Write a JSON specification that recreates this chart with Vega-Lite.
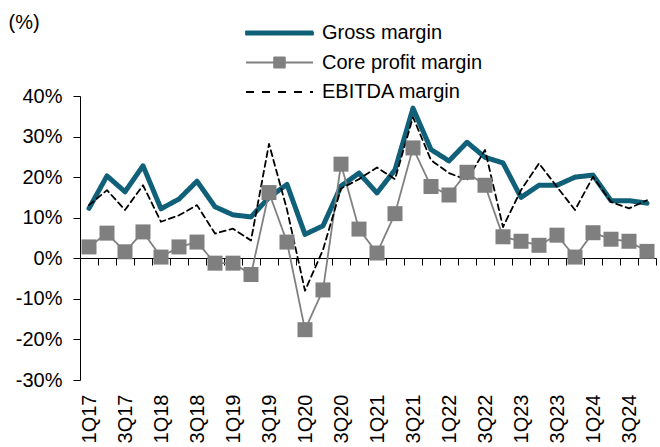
{
  "$schema": "https://vega.github.io/schema/vega-lite/v6.json",
  "width": 576,
  "height": 284,
  "autosize": {"type": "none"},
  "padding": {"left": 80, "top": 96, "right": 4, "bottom": 67},
  "background": "white",
  "config": {"view": {"stroke": null}, "font": "Liberation Sans"},
  "datasets": {
    "d": [
      {"q":"1Q17","s":"Gross margin","v":12.3},{"q":"2Q17","s":"Gross margin","v":20.3},{"q":"3Q17","s":"Gross margin","v":16.4},{"q":"4Q17","s":"Gross margin","v":22.8},
      {"q":"1Q18","s":"Gross margin","v":12.2},{"q":"2Q18","s":"Gross margin","v":14.6},{"q":"3Q18","s":"Gross margin","v":19.0},{"q":"4Q18","s":"Gross margin","v":12.7},
      {"q":"1Q19","s":"Gross margin","v":10.7},{"q":"2Q19","s":"Gross margin","v":10.2},{"q":"3Q19","s":"Gross margin","v":15.0},{"q":"4Q19","s":"Gross margin","v":18.2},
      {"q":"1Q20","s":"Gross margin","v":5.9},{"q":"2Q20","s":"Gross margin","v":8.0},{"q":"3Q20","s":"Gross margin","v":17.8},{"q":"4Q20","s":"Gross margin","v":21.0},
      {"q":"1Q21","s":"Gross margin","v":16.1},{"q":"2Q21","s":"Gross margin","v":21.8},{"q":"3Q21","s":"Gross margin","v":37.0},{"q":"4Q21","s":"Gross margin","v":26.8},
      {"q":"1Q22","s":"Gross margin","v":24.0},{"q":"2Q22","s":"Gross margin","v":28.6},{"q":"3Q22","s":"Gross margin","v":24.9},{"q":"4Q22","s":"Gross margin","v":23.5},
      {"q":"1Q23","s":"Gross margin","v":15.0},{"q":"2Q23","s":"Gross margin","v":18.0},{"q":"3Q23","s":"Gross margin","v":18.0},{"q":"4Q23","s":"Gross margin","v":20.0},
      {"q":"1Q24","s":"Gross margin","v":20.5},{"q":"2Q24","s":"Gross margin","v":14.2},{"q":"3Q24","s":"Gross margin","v":14.2},{"q":"4Q24","s":"Gross margin","v":13.6},

      {"q":"1Q17","s":"Core profit margin","v":2.8},{"q":"2Q17","s":"Core profit margin","v":6.2},{"q":"3Q17","s":"Core profit margin","v":1.6},{"q":"4Q17","s":"Core profit margin","v":6.5},
      {"q":"1Q18","s":"Core profit margin","v":0.3},{"q":"2Q18","s":"Core profit margin","v":2.8},{"q":"3Q18","s":"Core profit margin","v":4.0},{"q":"4Q18","s":"Core profit margin","v":-1.2},
      {"q":"1Q19","s":"Core profit margin","v":-1.2},{"q":"2Q19","s":"Core profit margin","v":-4.0},{"q":"3Q19","s":"Core profit margin","v":16.2},{"q":"4Q19","s":"Core profit margin","v":4.0},
      {"q":"1Q20","s":"Core profit margin","v":-17.6},{"q":"2Q20","s":"Core profit margin","v":-7.8},{"q":"3Q20","s":"Core profit margin","v":23.2},{"q":"4Q20","s":"Core profit margin","v":7.2},
      {"q":"1Q21","s":"Core profit margin","v":1.3},{"q":"2Q21","s":"Core profit margin","v":11.0},{"q":"3Q21","s":"Core profit margin","v":27.2},{"q":"4Q21","s":"Core profit margin","v":17.7},
      {"q":"1Q22","s":"Core profit margin","v":15.6},{"q":"2Q22","s":"Core profit margin","v":21.2},{"q":"3Q22","s":"Core profit margin","v":18.0},{"q":"4Q22","s":"Core profit margin","v":5.3},
      {"q":"1Q23","s":"Core profit margin","v":4.2},{"q":"2Q23","s":"Core profit margin","v":3.2},{"q":"3Q23","s":"Core profit margin","v":5.7},{"q":"4Q23","s":"Core profit margin","v":0.3},
      {"q":"1Q24","s":"Core profit margin","v":6.3},{"q":"2Q24","s":"Core profit margin","v":4.7},{"q":"3Q24","s":"Core profit margin","v":4.2},{"q":"4Q24","s":"Core profit margin","v":1.7},

      {"q":"1Q17","s":"EBITDA margin","v":13.1},{"q":"2Q17","s":"EBITDA margin","v":16.8},{"q":"3Q17","s":"EBITDA margin","v":11.9},{"q":"4Q17","s":"EBITDA margin","v":18.0},
      {"q":"1Q18","s":"EBITDA margin","v":9.0},{"q":"2Q18","s":"EBITDA margin","v":10.6},{"q":"3Q18","s":"EBITDA margin","v":13.1},{"q":"4Q18","s":"EBITDA margin","v":6.1},
      {"q":"1Q19","s":"EBITDA margin","v":7.3},{"q":"2Q19","s":"EBITDA margin","v":4.4},{"q":"3Q19","s":"EBITDA margin","v":28.2},{"q":"4Q19","s":"EBITDA margin","v":12.0},
      {"q":"1Q20","s":"EBITDA margin","v":-8.0},{"q":"2Q20","s":"EBITDA margin","v":2.1},{"q":"3Q20","s":"EBITDA margin","v":17.2},{"q":"4Q20","s":"EBITDA margin","v":19.5},
      {"q":"1Q21","s":"EBITDA margin","v":22.4},{"q":"2Q21","s":"EBITDA margin","v":19.5},{"q":"3Q21","s":"EBITDA margin","v":34.8},{"q":"4Q21","s":"EBITDA margin","v":24.2},
      {"q":"1Q22","s":"EBITDA margin","v":21.0},{"q":"2Q22","s":"EBITDA margin","v":19.3},{"q":"3Q22","s":"EBITDA margin","v":26.7},{"q":"4Q22","s":"EBITDA margin","v":7.7},
      {"q":"1Q23","s":"EBITDA margin","v":16.8},{"q":"2Q23","s":"EBITDA margin","v":23.4},{"q":"3Q23","s":"EBITDA margin","v":17.6},{"q":"4Q23","s":"EBITDA margin","v":11.9},
      {"q":"1Q24","s":"EBITDA margin","v":20.1},{"q":"2Q24","s":"EBITDA margin","v":13.9},{"q":"3Q24","s":"EBITDA margin","v":12.3},{"q":"4Q24","s":"EBITDA margin","v":14.3}
    ]
  },
  "data": {"name": "d"},
  "layer": [
    {
      "mark": {"type": "line", "strokeCap": "round", "strokeJoin": "round"},
      "encoding": {
        "x": {
          "field": "q", "type": "ordinal", "sort": null,
          "scale": {"type": "band", "paddingInner": 0, "paddingOuter": 0},
          "axis": {
            "title": null, "offset": -122, "tickBand": "extent", "tickSize": 7,
            "tickColor": "black", "domainColor": "black", "grid": false,
            "labelAngle": -90, "labelAlign": "right", "labelBaseline": "middle",
            "labelFontSize": 20, "labelColor": "black", "labelPadding": 129,
            "labelOverlap": false,
            "labelExpr": "(substring(datum.label,0,1) === '1' || substring(datum.label,0,1) === '3') ? datum.label : ''"
          }
        },
        "y": {
          "field": "v", "type": "quantitative",
          "scale": {"domain": [-30, 40], "nice": false, "zero": false},
          "axis": {
            "title": "(%)", "titleAngle": 0, "titleX": -72, "titleY": -74,
            "titleAlign": "left", "titleBaseline": "middle", "titleFontSize": 20,
            "titleFontWeight": "normal", "titleColor": "black",
            "values": [-30, -20, -10, 0, 10, 20, 30, 40],
            "labelExpr": "datum.value + '%'", "tickSize": 7, "labelPadding": 11,
            "labelFontSize": 20, "labelColor": "black", "grid": false,
            "domainColor": "black", "tickColor": "black"
          }
        },
        "color": {
          "field": "s", "type": "nominal",
          "scale": {"domain": ["Gross margin", "Core profit margin", "EBITDA margin"], "range": ["#0f6078", "#808080", "#000000"]},
          "legend": {
            "title": null, "orient": "none", "legendX": 165, "legendY": -76.5, "padding": 0,
            "labelFontSize": 20, "labelColor": "black", "labelFont": "Liberation Sans", "labelLimit": 300,
            "symbolSize": 4489, "symbolStrokeWidth": 1.8, "clipHeight": 27, "rowPadding": 2.5, "labelOffset": 8,
            "symbolType": "stroke",
            "encode": {
              "symbols": {
                "update": {
                  "shape": {"signal": "datum.value === 'Core profit margin' ? 'M-1,0H1M-0.16,-0.15H0.16V0.15H-0.16Z' : (datum.value === 'Gross margin' ? 'M-1,-0.048H1V0.048H-1Z' : 'stroke')"},
                  "fill": {"signal": "datum.value === 'Core profit margin' ? '#808080' : (datum.value === 'Gross margin' ? '#0f6078' : 'transparent')"},
                  "strokeWidth": {"value": 1.8},
                  "strokeJoin": {"value": "round"},
                  "strokeDash": {"signal": "datum.value === 'EBITDA margin' ? [8, 8] : [1, 0]"}
                }
              }
            }
          }
        },
        "strokeWidth": {"condition": {"test": "datum.s === 'Gross margin'", "value": 5}, "value": 1.8},
        "strokeDash": {"condition": {"test": "datum.s === 'EBITDA margin'", "value": [6, 4]}, "value": [1, 0]}
      }
    },
    {
      "transform": [{"filter": "datum.s === 'Core profit margin'"}],
      "mark": {"type": "square", "size": 225, "color": "#7f7f7f", "opacity": 1},
      "encoding": {
        "x": {"field": "q", "type": "ordinal", "sort": null},
        "y": {"field": "v", "type": "quantitative"}
      }
    }
  ]
}
